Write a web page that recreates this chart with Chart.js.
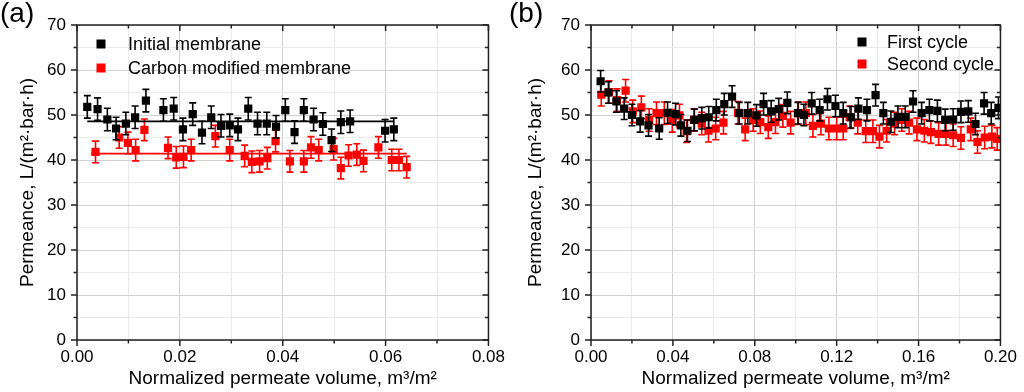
<!DOCTYPE html>
<html>
<head>
<meta charset="utf-8">
<script src="https://cdn.jsdelivr.net/npm/chart.js@4.4.0/dist/chart.umd.min.js"></script>
<style>
  html, body { margin: 0; padding: 0; background: #fff; width: 1024px; height: 392px; overflow: hidden; }
  .panel { position: absolute; top: 0; width: 512px; height: 392px; }
  .tag { position: absolute; top: -3px; font: 28px "Liberation Sans", Arial, sans-serif; color: #000; }
</style>
</head>
<body>
<div class="panel" style="left:0"><canvas id="chartA" width="512" height="392"></canvas></div>
<div class="panel" style="left:512px"><canvas id="chartB" width="512" height="392"></canvas></div>
<div class="tag" style="left:0">(a)</div>
<div class="tag" style="left:509px">(b)</div>
<script>
// panel (a): initial vs carbon modified membrane
const aInitialX = [0.0020, 0.0040, 0.0059, 0.0076, 0.0095, 0.0113, 0.0134, 0.0168, 0.0188, 0.0206, 0.0225, 0.0243, 0.0261, 0.0280, 0.0297,
                   0.0313, 0.0333, 0.0351, 0.0369, 0.0387, 0.0405, 0.0423, 0.0441, 0.0460, 0.0478, 0.0495, 0.0513, 0.0531, 0.0599, 0.0616];
const aInitialY = [51.8, 51.3, 49.0, 47.0, 48.1, 49.5, 53.2, 51.1, 51.4, 46.8, 50.2, 46.1, 49.5, 47.6, 47.7,
                   46.8, 51.4, 48.1, 48.1, 47.4, 51.1, 46.2, 51.1, 49.0, 48.0, 44.4, 48.4, 48.6, 46.5, 46.8];
const aCarbonX = [0.0036, 0.0082, 0.0099, 0.0114, 0.0131, 0.0177, 0.0193, 0.0207, 0.0222, 0.0269, 0.0297, 0.0326, 0.0340, 0.0355, 0.0370,
                  0.0386, 0.0414, 0.0441, 0.0455, 0.0470, 0.0499, 0.0513, 0.0528, 0.0544, 0.0557, 0.0586, 0.0612, 0.0626, 0.0641];
const aCarbonY = [41.8, 45.0, 43.8, 42.2, 46.7, 42.7, 40.6, 40.7, 42.2, 45.3, 42.2, 40.9, 39.6, 39.7, 40.4,
                  44.2, 39.7, 39.7, 42.8, 42.2, 42.4, 38.2, 41.0, 41.2, 39.8, 42.8, 40.0, 40.0, 38.4];
// fitted mean lines
const aInitialFitX = [0.0020, 0.0616];
const aInitialFitY = [48.6, 48.6];
const aCarbonFitX = [0.0027, 0.0641];
const aCarbonFitY = [41.4, 41.4];
const aInitialErr = 2.5;
const aCarbonErr = 2.4;

// panel (b): first vs second cycle
const bFirstX = [0.0047, 0.0085, 0.0124, 0.0162, 0.0200, 0.0240, 0.0281, 0.0333, 0.0374, 0.0413, 0.0439, 0.0471, 0.0505, 0.0541, 0.0575,
                 0.0612, 0.0651, 0.0689, 0.0724, 0.0766, 0.0808, 0.0843, 0.0880, 0.0917, 0.0959, 0.1011, 0.1040, 0.1078, 0.1117, 0.1155,
                 0.1194, 0.1232, 0.1270, 0.1306, 0.1348, 0.1390, 0.1428, 0.1465, 0.1499, 0.1535, 0.1573, 0.1615, 0.1653, 0.1692, 0.1730,
                 0.1769, 0.1807, 0.1843, 0.1878, 0.1920, 0.1955, 0.1990];
const bFirstY = [57.5, 55.0, 53.0, 51.4, 50.0, 48.6, 47.7, 47.0, 50.5, 50.2, 47.7, 46.5, 48.9, 49.3, 49.5,
                 51.1, 52.4, 54.1, 50.4, 50.4, 49.9, 52.4, 50.8, 51.3, 52.7, 50.4, 50.0, 52.6, 51.1, 53.5,
                 52.0, 50.4, 49.5, 51.4, 51.1, 54.4, 50.4, 48.5, 49.6, 49.6, 53.0, 50.4, 51.1, 50.9, 48.9,
                 49.0, 50.7, 50.8, 48.0, 52.6, 50.4, 51.6];
const bSecondX = [0.0050, 0.0088, 0.0127, 0.0169, 0.0204, 0.0246, 0.0284, 0.0320, 0.0358, 0.0397, 0.0432, 0.0467, 0.0503, 0.0541, 0.0574,
                  0.0609, 0.0647, 0.0718, 0.0753, 0.0792, 0.0827, 0.0866, 0.0901, 0.0937, 0.0975, 0.1013, 0.1049, 0.1084, 0.1123, 0.1162,
                  0.1200, 0.1232, 0.1264, 0.1303, 0.1342, 0.1377, 0.1409, 0.1444, 0.1483, 0.1518, 0.1554, 0.1592, 0.1628, 0.1660, 0.1698,
                  0.1734, 0.1769, 0.1807, 0.1855, 0.1888, 0.1923, 0.1958, 0.1984];
const bSecondY = [54.5, 55.1, 53.3, 55.4, 50.8, 51.7, 48.9, 50.4, 50.4, 48.7, 49.9, 46.4, 48.9, 48.1, 46.5,
                  47.0, 48.3, 50.5, 46.8, 48.9, 48.4, 47.3, 48.4, 49.8, 48.3, 50.4, 50.4, 47.6, 48.1, 47.0,
                  47.0, 47.0, 49.5, 48.3, 46.4, 46.4, 45.2, 46.5, 48.1, 48.9, 48.3, 46.8, 46.5, 46.2, 45.8,
                  45.8, 45.5, 44.9, 46.8, 44.0, 45.0, 45.2, 44.7];
const bFirstErr = 2.4;
const bSecondErr = 2.5;

const FONT = '"Liberation Sans", Arial, sans-serif';
const pts = (xs, ys) => xs.map((x, i) => ({ x: x, y: ys[i] }));

// error bars drawn just before each dataset's own markers
const errorBars = {
    id: 'errorBars',
    beforeDatasetDraw(chart, args) {
        const ds = chart.data.datasets[args.index];
        if (ds.err == null) return;
        const { ctx, chartArea: ca, scales: { y } } = chart;
        ctx.save();
        ctx.beginPath();
        ctx.rect(ca.left, ca.top, ca.right - ca.left, ca.bottom - ca.top);
        ctx.clip();
        ctx.strokeStyle = ds.borderColor;
        ctx.lineWidth = 1.6;
        args.meta.data.forEach((p, i) => {
            const v = ds.data[i].y;
            const yt = y.getPixelForValue(v + ds.err);
            const yb = y.getPixelForValue(v - ds.err);
            ctx.beginPath();
            ctx.moveTo(p.x, yt); ctx.lineTo(p.x, yb);
            ctx.moveTo(p.x - 3.5, yt); ctx.lineTo(p.x + 3.5, yt);
            ctx.moveTo(p.x - 3.5, yb); ctx.lineTo(p.x + 3.5, yb);
            ctx.stroke();
        });
        ctx.restore();
    }
};

// box frame with ticks on all four sides (inward on top/right)
const frame = {
    id: 'frame',
    afterDraw(chart, args, opts) {
        const { ctx, chartArea: { left, right, top, bottom }, scales: { x, y } } = chart;
        ctx.save();
        ctx.strokeStyle = '#222';
        ctx.lineWidth = 1.5;
        ctx.strokeRect(left, top, right - left, bottom - top);
        ctx.beginPath();
        x.ticks.forEach(t => {
            const px = x.getPixelForValue(t.value);
            const len = opts.xMajor(t.value) ? 6 : 3.5;
            ctx.moveTo(px, bottom); ctx.lineTo(px, bottom + len);
            ctx.moveTo(px, top); ctx.lineTo(px, top + len);
        });
        y.ticks.forEach(t => {
            const py = y.getPixelForValue(t.value);
            const len = t.value % 10 === 0 ? 6 : 3.5;
            ctx.moveTo(left - len, py); ctx.lineTo(left, py);
            ctx.moveTo(right - len, py); ctx.lineTo(right, py);
        });
        ctx.stroke();
        ctx.restore();
    }
};

// legend inside the plot, top-left
const insetLegend = {
    id: 'insetLegend',
    afterDraw(chart, args, opts) {
        const ctx = chart.ctx;
        ctx.save();
        ctx.font = '18px ' + FONT;
        ctx.textBaseline = 'middle';
        let row = 0;
        chart.data.datasets.forEach(ds => {
            if (!ds.label) return;
            const cy = opts.top + row * opts.gap;
            ctx.fillStyle = ds.backgroundColor;
            ctx.fillRect(opts.left - 4.5, cy - 4.5, 9, 9);
            ctx.fillStyle = '#000';
            ctx.fillText(ds.label, opts.textLeft, cy + 1);
            row++;
        });
        ctx.restore();
    }
};

function makeOptions(xMax, xStep, yWidth, rightPad, titlePad, legendPos) {
    const xMajor = v => Math.round(v / xStep) % 2 === 0;
    return {
        responsive: false,
        animation: false,
        layout: { padding: { left: 0, right: rightPad, top: 25, bottom: 0 } },
        plugins: {
            legend: { display: false },
            tooltip: { enabled: false },
            frame: { xMajor: xMajor },
            insetLegend: legendPos
        },
        scales: {
            x: {
                type: 'linear', min: 0, max: xMax,
                border: { display: false },
                afterFit: s => { s.height = 52; },
                grid: {
                    drawTicks: false,
                    color: c => xMajor(c.tick.value) ? '#d0d0d0' : '#eaeaea',
                    lineWidth: 1
                },
                ticks: {
                    stepSize: xStep, autoSkip: false, maxRotation: 0, padding: 7,
                    color: '#000', font: { family: FONT, size: 17 },
                    callback: v => xMajor(v) ? v.toFixed(2) : ''
                },
                title: {
                    display: true, color: '#000', font: { family: FONT, size: 19 },
                    padding: { top: 0, bottom: 2 },
                    text: 'Normalized permeate volume, m\u00b3/m\u00b2'
                }
            },
            y: {
                type: 'linear', min: 0, max: 70,
                border: { display: false },
                afterFit: s => { s.width = yWidth; },
                grid: {
                    drawTicks: false,
                    color: c => c.tick.value % 10 === 0 ? '#d0d0d0' : '#eaeaea',
                    lineWidth: 1
                },
                ticks: {
                    stepSize: 5, autoSkip: false, padding: 11,
                    color: '#000', font: { family: FONT, size: 17 },
                    callback: v => v % 10 === 0 ? String(v) : ''
                },
                title: {
                    display: true, color: '#000', font: { family: FONT, size: 19 },
                    padding: { top: titlePad, bottom: 0 },
                    text: 'Permeance, L/(m\u00b2\u00b7bar\u00b7h)'
                }
            }
        }
    };
}

const markerSet = (label, xs, ys, color, err) => ({
    type: 'scatter', label: label, data: pts(xs, ys), err: err,
    backgroundColor: color, borderColor: color, borderWidth: 0,
    pointStyle: 'rect', pointRadius: 5.8
});
const fitLine = (xs, ys, color) => ({
    type: 'line', data: pts(xs, ys), borderColor: color, backgroundColor: color,
    borderWidth: 1.8, pointRadius: 0, fill: false
});

new Chart(document.getElementById('chartA'), {
    type: 'scatter',
    data: {
        datasets: [
            markerSet('Initial membrane', aInitialX, aInitialY, '#000000', aInitialErr),
            fitLine(aInitialFitX, aInitialFitY, '#000000'),
            markerSet('Carbon modified membrane', aCarbonX, aCarbonY, '#ff0000', aCarbonErr),
            fitLine(aCarbonFitX, aCarbonFitY, '#ff0000')
        ]
    },
    options: makeOptions(0.08, 0.01, 77, 20, 16, { left: 101, textLeft: 128, top: 44, gap: 24 }),
    plugins: [errorBars, frame, insetLegend]
});

new Chart(document.getElementById('chartB'), {
    type: 'scatter',
    data: {
        datasets: [
            markerSet('First cycle', bFirstX, bFirstY, '#000000', bFirstErr),
            markerSet('Second cycle', bSecondX, bSecondY, '#ff0000', bSecondErr)
        ]
    },
    options: makeOptions(0.20, 0.02, 79, 18, 12, { left: 350, textLeft: 375, top: 42, gap: 22 }),
    plugins: [errorBars, frame, insetLegend]
});
</script>
</body>
</html>
